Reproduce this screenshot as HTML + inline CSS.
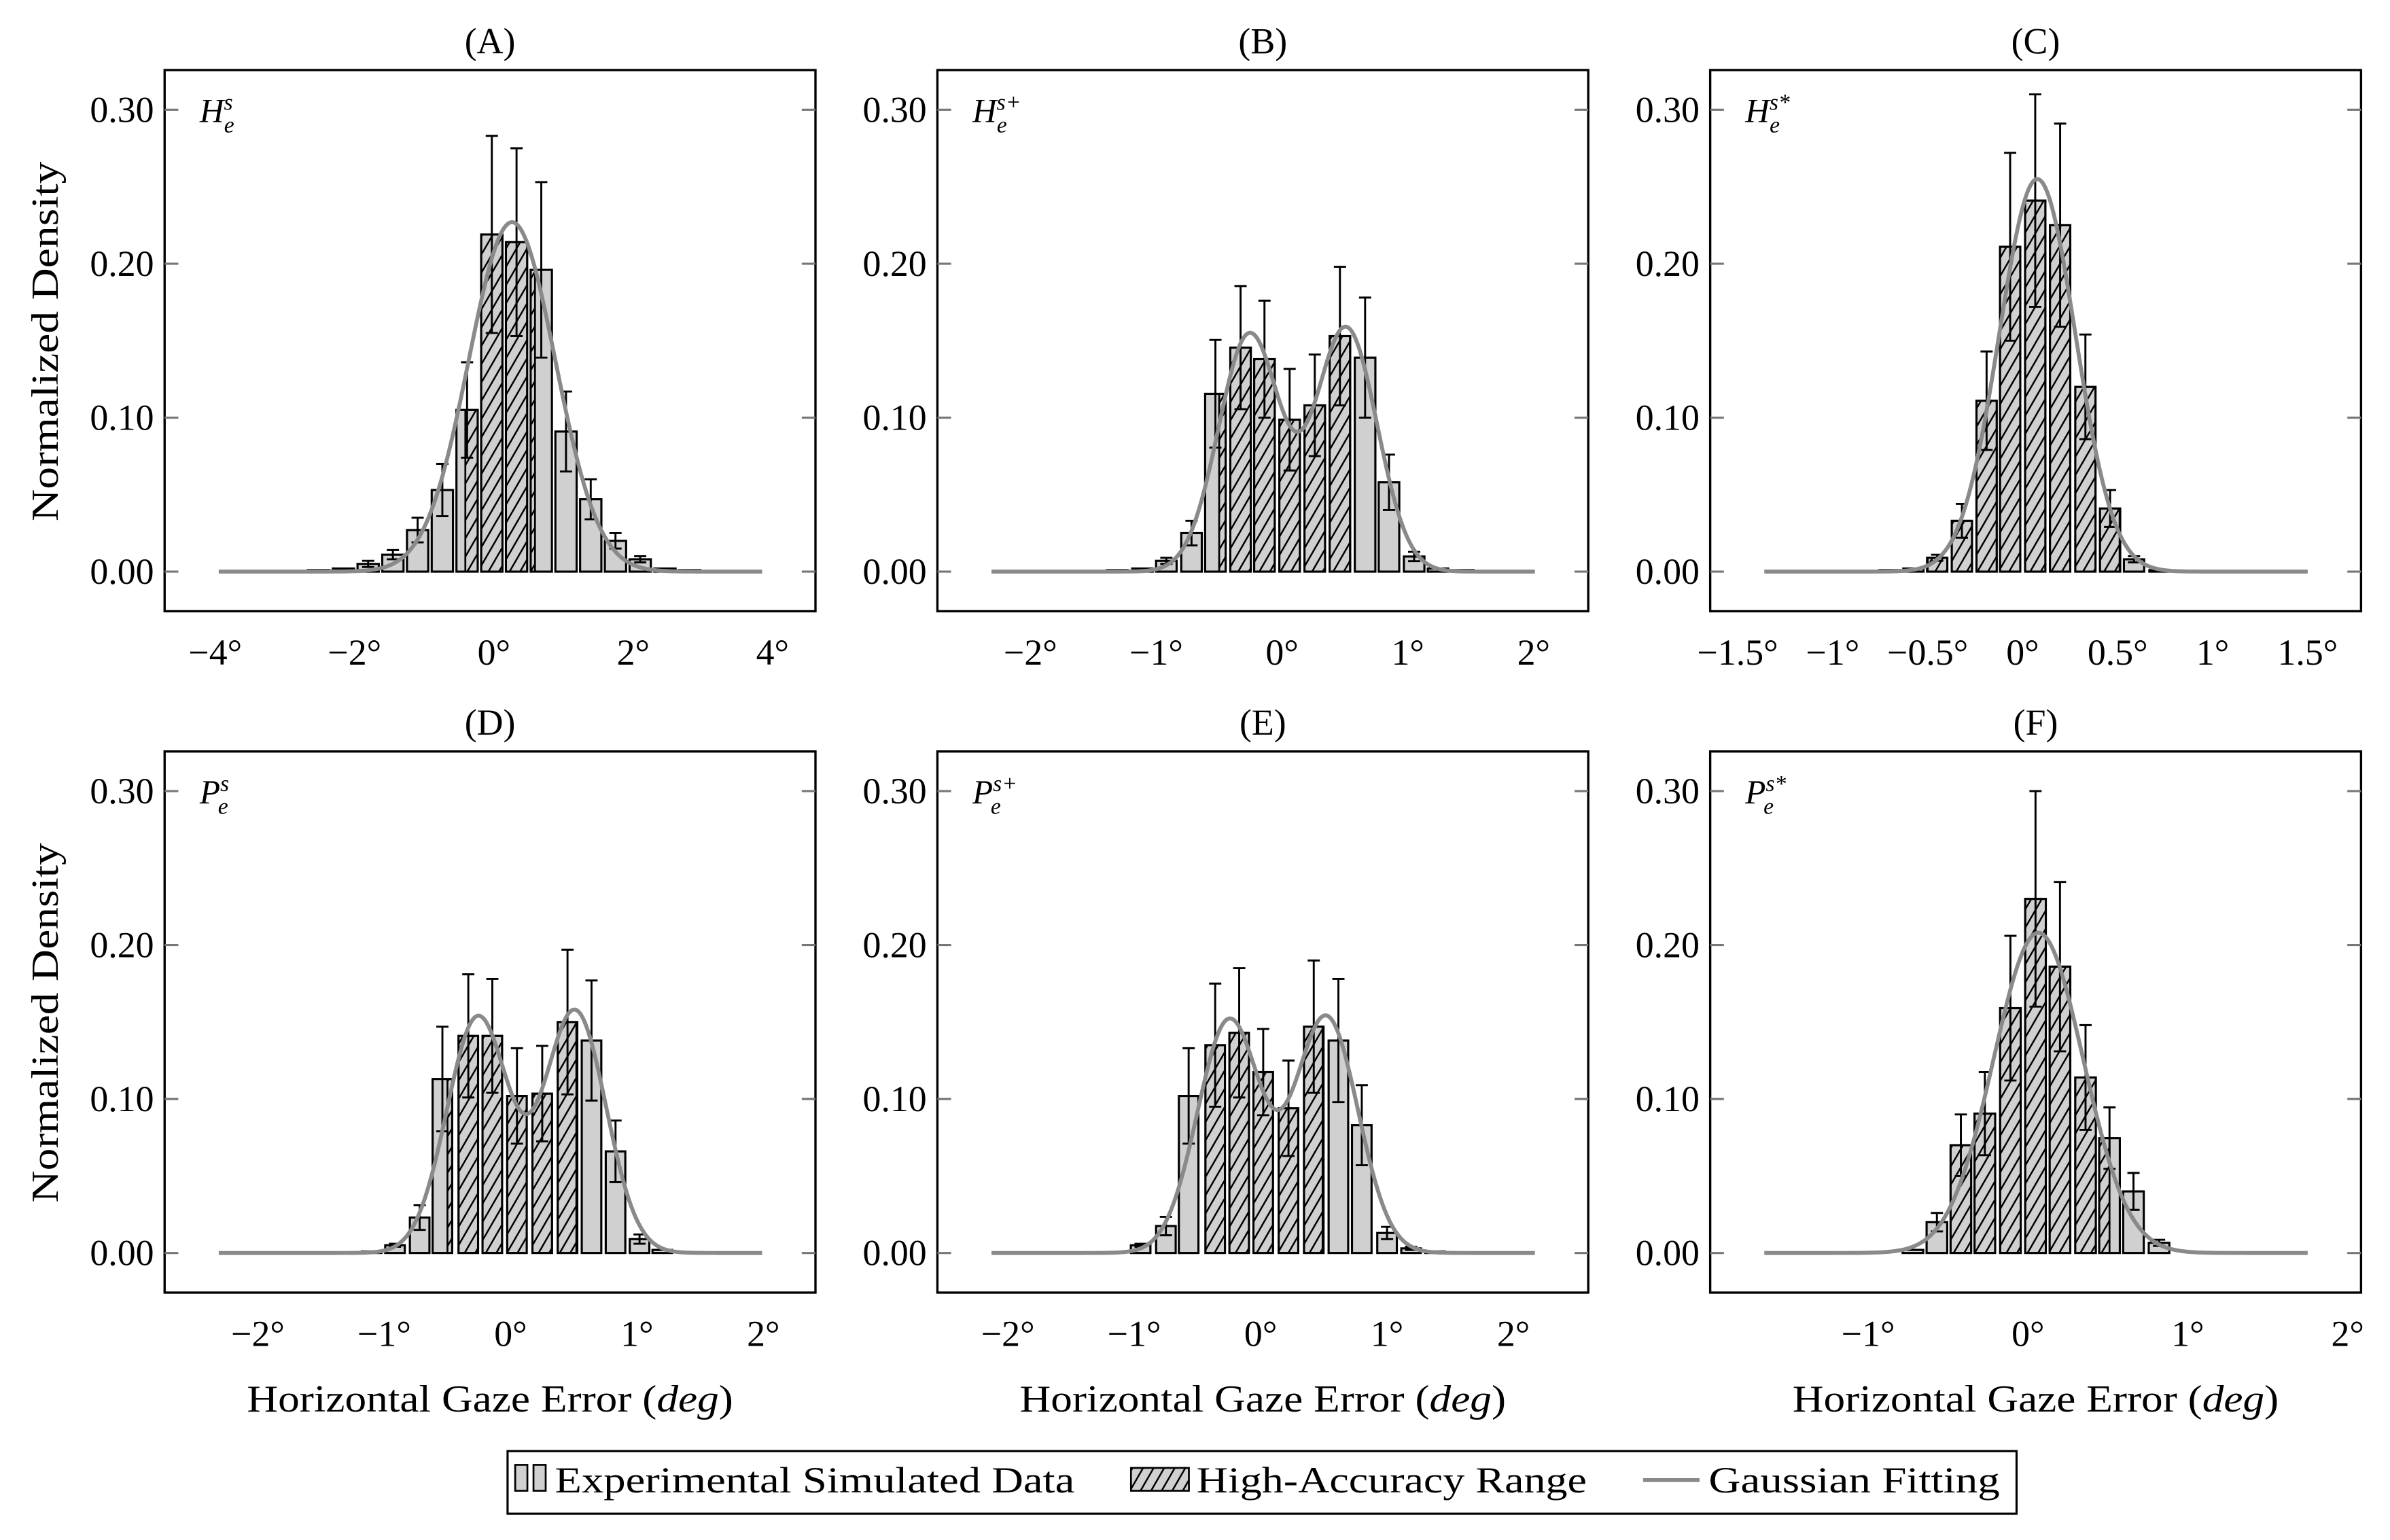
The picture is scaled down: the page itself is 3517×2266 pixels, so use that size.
<!DOCTYPE html>
<html><head><meta charset="utf-8">
<style>
html,body{margin:0;padding:0;background:#fff;}
svg{display:block;}
text{font-family:"Liberation Serif",serif;fill:#000;}
</style></head>
<body>
<svg id="fig" width="3517" height="2266" viewBox="0 0 1568 1010.3" preserveAspectRatio="none" xmlns="http://www.w3.org/2000/svg">
<defs>
<pattern id="hatch" patternUnits="userSpaceOnUse" width="6" height="6" patternTransform="rotate(30)">
<line x1="3" y1="-1" x2="3" y2="7" stroke="#000" stroke-width="1.1"/>
</pattern>
</defs>
<g id="plots"></g>
<g>
<rect x="333" y="952" width="990" height="41" fill="#fff" stroke="#000" stroke-width="1.4"/>
<g>
<rect x="338" y="961" width="8" height="17" fill="#d0d0d0" stroke="#000" stroke-width="1.2"/>
<rect x="350" y="961" width="8" height="17" fill="#d0d0d0" stroke="#000" stroke-width="1.2"/>
<text x="364" y="979" font-size="24" textLength="341" lengthAdjust="spacingAndGlyphs">Experimental Simulated Data</text>
</g>
<g>
<rect x="742" y="963" width="38" height="15" fill="#d0d0d0" stroke="#000" stroke-width="1.2"/>
<rect x="742" y="963" width="38" height="15" fill="url(#hatch)"/>
<text x="785" y="979" font-size="24" textLength="256" lengthAdjust="spacingAndGlyphs">High-Accuracy Range</text>
</g>
<g>
<line x1="1078" y1="971" x2="1115" y2="971" stroke="#8a8a8a" stroke-width="2.6"/>
<text x="1121" y="979" font-size="24" textLength="191" lengthAdjust="spacingAndGlyphs">Gaussian Fitting</text>
</g>
</g>
</svg>
<script>
// ---- data ----
const centersA = [-2.515,-2.16,-1.805,-1.45,-1.095,-0.74,-0.385,-0.03,0.325,0.68,1.035,1.39,1.745,2.1,2.455,2.81];
const valuesA  = [0.001,0.002,0.005,0.011,0.027,0.053,0.105,0.219,0.214,0.196,0.091,0.047,0.020,0.008,0.002,0.001];
const errorsA  = [0,0,0.002,0.003,0.008,0.017,0.031,0.064,0.061,0.057,0.026,0.013,0.005,0.002,0,0];
const hatchA = [-0.41, 0.59];
const gaussAmpA = [0.227], gaussMuA = [0.26], gaussSigA = [0.62];
const xRangeA = [-3.95, 3.85];
const ticksA = [-4,-2,0,2,4];
const tickLabelsA = ["−4°","−2°","0°","2°","4°"];

const centersB = [-1.31,-1.11,-0.92,-0.72,-0.53,-0.33,-0.14,0.06,0.26,0.46,0.66,0.85,1.05,1.24,1.44];
const valuesB  = [0.001,0.002,0.007,0.025,0.1155,0.1455,0.138,0.0987,0.108,0.153,0.139,0.058,0.0098,0.002,0.001];
const errorsB  = [0,0,0.002,0.008,0.035,0.04,0.038,0.033,0.033,0.045,0.039,0.018,0.003,0,0];
const hatchB = [-0.5, 0.54];
const gaussAmpB = [0.154,0.158], gaussMuB = [-0.26,0.51], gaussSigB = [0.245,0.245];
const xRangeB = [-2.31, 2.01];
const ticksB = [-2,-1,0,1,2];
const tickLabelsB = ["−2°","−1°","0°","1°","2°"];

const centersC = [-0.7,-0.575,-0.45,-0.32,-0.19,-0.066,0.066,0.197,0.33,0.46,0.586,0.72];
const valuesC  = [0.001,0.002,0.009,0.033,0.111,0.211,0.241,0.225,0.120,0.041,0.008,0.001];
const errorsC  = [0,0,0.002,0.011,0.032,0.061,0.069,0.066,0.034,0.012,0.002,0];
const hatchC = [-0.5, 0.51];
const gaussAmpC = [0.255], gaussMuC = [0.077], gaussSigC = [0.2];
const xRangeC = [-1.36, 1.50];
const ticksC = [-1.5,-1,-0.5,0,0.5,1,1.5];
const tickLabelsC = ["−1.5°","−1°","−0.5°","0°","0.5°","1°","1.5°"];

const centersD = [-1.1,-0.915,-0.72,-0.54,-0.335,-0.145,0.05,0.25,0.45,0.64,0.83,1.02,1.2];
const valuesD  = [0.001,0.005,0.023,0.113,0.141,0.141,0.102,0.1035,0.150,0.138,0.066,0.009,0.002];
const errorsD  = [0,0.001,0.008,0.034,0.04,0.037,0.031,0.031,0.047,0.039,0.02,0.003,0];
const hatchD = [-0.5, 0.52];
const gaussAmpD = [0.153,0.157], gaussMuD = [-0.26,0.51], gaussSigD = [0.245,0.245];
const xRangeD = [-2.31, 1.99];
const ticksD = [-2,-1,0,1,2];
const tickLabelsD = ["−2°","−1°","0°","1°","2°"];

const centersE = [-0.95,-0.75,-0.57,-0.36,-0.17,0.02,0.22,0.42,0.615,0.8,1.0,1.19,1.38];
const valuesE  = [0.005,0.0175,0.102,0.135,0.143,0.1175,0.094,0.147,0.138,0.083,0.013,0.003,0.001];
const errorsE  = [0.001,0.006,0.031,0.04,0.042,0.028,0.031,0.043,0.04,0.026,0.004,0.001,0];
const hatchE = [-0.48, 0.49];
const gaussAmpE = [0.151,0.153], gaussMuE = [-0.25,0.52], gaussSigE = [0.25,0.25];
const xRangeE = [-2.13, 2.17];
const ticksE = [-2,-1,0,1,2];
const tickLabelsE = ["−2°","−1°","0°","1°","2°"];

const centersF = [-0.72,-0.57,-0.42,-0.27,-0.11,0.047,0.2,0.36,0.51,0.66,0.82];
const valuesF  = [0.002,0.020,0.070,0.0905,0.159,0.230,0.186,0.114,0.0746,0.040,0.0066];
const errorsF  = [0,0.006,0.02,0.027,0.047,0.07,0.055,0.034,0.02,0.012,0.002];
const hatchF = [-0.5, 0.51];
const gaussAmpF = [0.208], gaussMuF = [0.065], gaussSigF = [0.28];
const xRangeF = [-1.65, 1.75];
const ticksF = [-1,0,1,2];
const tickLabelsF = ["−1°","0°","1°","2°"];

const yTicks = [0, 0.1, 0.2, 0.3];
const yTickLabels = ["0.00","0.10","0.20","0.30"];
const panelTitles = ["(A)","(B)","(C)","(D)","(E)","(F)"];
const panelSymbols = ["H","H","H","P","P","P"];
const panelSups = ["s","s+","s*","s","s+","s*"];

// ---- layout ----
const NS = "http://www.w3.org/2000/svg";
const root = document.getElementById("plots");
function mk(tag, attrs, parent){
  const e = document.createElementNS(NS, tag);
  for (const k in attrs) e.setAttribute(k, attrs[k]);
  (parent||root).appendChild(e);
  return e;
}
const panels = [
  {c:centersA,v:valuesA,e:errorsA,h:hatchA,ga:gaussAmpA,gm:gaussMuA,gs:gaussSigA,xr:xRangeA,t:ticksA,tl:tickLabelsA},
  {c:centersB,v:valuesB,e:errorsB,h:hatchB,ga:gaussAmpB,gm:gaussMuB,gs:gaussSigB,xr:xRangeB,t:ticksB,tl:tickLabelsB},
  {c:centersC,v:valuesC,e:errorsC,h:hatchC,ga:gaussAmpC,gm:gaussMuC,gs:gaussSigC,xr:xRangeC,t:ticksC,tl:tickLabelsC},
  {c:centersD,v:valuesD,e:errorsD,h:hatchD,ga:gaussAmpD,gm:gaussMuD,gs:gaussSigD,xr:xRangeD,t:ticksD,tl:tickLabelsD},
  {c:centersE,v:valuesE,e:errorsE,h:hatchE,ga:gaussAmpE,gm:gaussMuE,gs:gaussSigE,xr:xRangeE,t:ticksE,tl:tickLabelsE},
  {c:centersF,v:valuesF,e:errorsF,h:hatchF,ga:gaussAmpF,gm:gaussMuF,gs:gaussSigF,xr:xRangeF,t:ticksF,tl:tickLabelsF}
];
const boxLefts = [108, 615, 1122];
const boxTops = [46, 493];
const BW = 427, BH = 355;
const letters = ["a","b","c","d","e","f"];

panels.forEach((p, i) => {
  const L = boxLefts[i % 3], T = boxTops[Math.floor(i / 3)];
  const g = mk("g", {});
  
  
  const x0 = L + 35.5, x1 = L + 392;
  const xs = v => x0 + (v - p.xr[0]) / (p.xr[1] - p.xr[0]) * (x1 - x0);
  const y0 = T + 329, perUnit = 1010;
  const ys = v => y0 - v * perUnit;

  const tt = mk("text", {x: L + BW/2, y: T - 11, "font-size": 24, "text-anchor": "middle"}, g);
  tt.textContent = panelTitles[i];
  
  

  const fr = mk("rect", {x: L, y: T, width: BW, height: BH, fill: "#fff", stroke: "#000", "stroke-width": 1.5}, g);
  
  

  yTicks.forEach((tv, k) => {
    const y = ys(tv);
    const tl = mk("line", {x1: L, x2: L + 9, y1: y, y2: y, stroke: "#777", "stroke-width": 1.4}, g);
    
    
    const tr = mk("line", {x1: L + BW - 9, x2: L + BW, y1: y, y2: y, stroke: "#777", "stroke-width": 1.4}, g);
    
    
    const lb = mk("text", {x: L - 7, y: y + 8, "font-size": 24, "text-anchor": "end"}, g);
    lb.textContent = yTickLabels[k];
    
    
  });

  p.t.forEach((tv, k) => {
    const lb = mk("text", {x: xs(tv), y: T + BH + 35, "font-size": 24, "text-anchor": "middle"}, g);
    lb.textContent = p.tl[k];
    
    
  });

  let minSp = 1e9;
  for (let k = 1; k < p.c.length; k++) minSp = Math.min(minSp, p.c[k] - p.c[k-1]);
  const bw = minSp * 0.86;
  p.c.forEach((cx, k) => {
    const xa = xs(cx - bw/2), xb = xs(cx + bw/2), yt = ys(p.v[k]), yb = ys(0);
    const r = mk("rect", {x: xa, y: yt, width: xb - xa, height: yb - yt, fill: "#d0d0d0", stroke: "#000", "stroke-width": 1.4}, g);
    
    
    const ha = Math.max(cx - bw/2, p.h[0]), hb = Math.min(cx + bw/2, p.h[1]);
    if (hb > ha) {
      const hr = mk("rect", {x: xs(ha), y: yt, width: xs(hb) - xs(ha), height: yb - yt, fill: "url(#hatch)", stroke: "#000", "stroke-width": 1.2}, g);
      
      
    }
  });
  p.c.forEach((cx, k) => {
    if (p.e[k] <= 0) return;
    const xc = xs(cx), ya = ys(p.v[k] + p.e[k]), yb2 = ys(p.v[k] - p.e[k]);
    const eb = mk("path", {d: `M${xc},${ya}V${yb2}M${xc-4},${ya}H${xc+4}M${xc-4},${yb2}H${xc+4}`, stroke: "#000", "stroke-width": 1.3, fill: "none"}, g);
    
    
  });

  let d = "";
  const N = 300;
  for (let s = 0; s <= N; s++) {
    const xv = p.xr[0] + (p.xr[1] - p.xr[0]) * s / N;
    let yv = 0;
    for (let m = 0; m < p.ga.length; m++) yv += p.ga[m] * Math.exp(-((xv - p.gm[m]) ** 2) / (2 * p.gs[m] ** 2));
    d += (s ? "L" : "M") + xs(xv).toFixed(2) + "," + ys(yv).toFixed(2);
  }
  const gl = mk("path", {d: d, fill: "none", stroke: "#8a8a8a", "stroke-width": 2.6, "stroke-linejoin": "round"}, g);
  
  

  const sym = mk("text", {x: L + 23, y: T + 34, "font-size": 22, "font-style": "italic"}, g);
  
  
  const t1 = mk("tspan", {}, sym); t1.textContent = panelSymbols[i];
  const t2 = mk("tspan", {"font-size": 15, dy: -8}, sym); t2.textContent = panelSups[i];
  const t3 = mk("tspan", {"font-size": 15, x: L + 23 + (panelSymbols[i] === "H" ? 16 : 12), dy: 15}, sym); t3.textContent = "e";

  if (i % 3 === 0) {
    const yt = mk("text", {x: 0, y: 0, "font-size": 25, "text-anchor": "middle", transform: `translate(38,${T + 178}) rotate(-90)`, textLength: 236, lengthAdjust: "spacingAndGlyphs"}, g);
    yt.textContent = "Normalized Density";
    
    
  }
  if (i >= 3) {
    const xt = mk("text", {x: L + BW/2, y: T + BH + 78, "font-size": 25, "text-anchor": "middle", textLength: 319, lengthAdjust: "spacingAndGlyphs"}, g);
    
    
    const a = mk("tspan", {}, xt); a.textContent = "Horizontal Gaze Error (";
    const b = mk("tspan", {"font-style": "italic"}, xt); b.textContent = "deg";
    const c = mk("tspan", {}, xt); c.textContent = ")";
  }
});
</script>
</body></html>
